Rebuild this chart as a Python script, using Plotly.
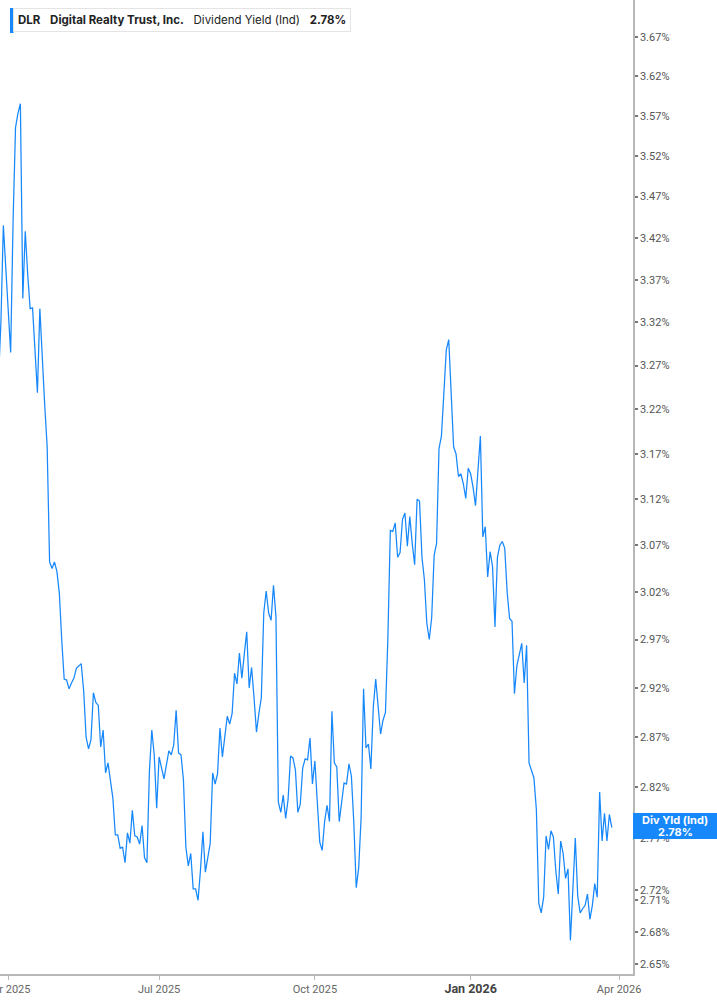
import math
import pandas as pd
import plotly.graph_objects as go

# ---------------- data (dividend yield, %, one value per NYSE trading day) ----------------
HOLIDAYS = ["2025-04-18", "2025-05-26", "2025-06-19", "2025-07-04", "2025-09-01",
            "2025-11-27", "2025-12-25", "2026-01-01", "2026-01-19", "2026-02-16", "2026-04-03"]

# Mar 26 - Mar 31 2025
yld_mar_2025 = [3.255, 3.32, 3.435, 3.384]
# Apr 1 - Jun 30 2025
yld_q2_2025 = [3.336, 3.285, 3.44, 3.555, 3.573, 3.585, 3.348, 3.428, 3.377, 3.336,
               3.337, 3.284, 3.239, 3.336, 3.271, 3.225, 3.178, 3.052, 3.045, 3.052,
               3.042, 3.019, 2.969, 2.929, 2.928, 2.919, 2.925, 2.930, 2.940, 2.943,
               2.945, 2.917, 2.870, 2.858, 2.867, 2.915, 2.905, 2.902, 2.860, 2.877,
               2.834, 2.844, 2.827, 2.809, 2.773, 2.773, 2.760, 2.761, 2.746, 2.775,
               2.765, 2.797, 2.772, 2.771, 2.764, 2.782, 2.751, 2.746, 2.835, 2.877,
               2.852, 2.799]
# Jul 1 - Sep 30 2025
yld_q3_2025 = [2.850, 2.837, 2.828, 2.842, 2.856, 2.852, 2.862, 2.897, 2.854, 2.852,
               2.827, 2.761, 2.743, 2.755, 2.721, 2.721, 2.710, 2.739, 2.776, 2.737,
               2.751, 2.765, 2.834, 2.823, 2.833, 2.879, 2.850, 2.874, 2.891, 2.883,
               2.894, 2.935, 2.924, 2.956, 2.930, 2.955, 2.978, 2.920, 2.941, 2.910,
               2.875, 2.894, 2.910, 2.998, 3.021, 2.998, 2.990, 3.027, 2.994, 2.805,
               2.795, 2.812, 2.789, 2.808, 2.851, 2.849, 2.837, 2.795, 2.803, 2.839,
               2.848, 2.847, 2.869, 2.823]
# Oct 1 - Dec 31 2025
yld_q4_2025 = [2.846, 2.805, 2.766, 2.758, 2.786, 2.802, 2.786, 2.896, 2.844, 2.840,
               2.786, 2.805, 2.824, 2.823, 2.843, 2.831, 2.785, 2.722, 2.741, 2.790,
               2.919, 2.859, 2.863, 2.838, 2.900, 2.929, 2.897, 2.873, 2.887, 2.895,
               2.972, 3.086, 3.085, 3.094, 3.057, 3.062, 3.098, 3.105, 3.069, 3.101,
               3.072, 3.049, 3.120, 3.118, 3.057, 3.033, 2.987, 2.970, 2.993, 3.059,
               3.072, 3.176, 3.190, 3.241, 3.288, 3.300, 3.241, 3.178, 3.170, 3.145,
               3.148, 3.137, 3.121, 3.154]
# Jan 2 - Mar 27 2026
yld_q1_2026 = [3.148, 3.133, 3.113, 3.151, 3.190, 3.079, 3.090, 3.036, 3.063, 3.047,
               2.983, 3.057, 3.070, 3.074, 3.067, 3.020, 2.992, 2.989, 2.914, 2.943,
               2.954, 2.966, 2.925, 2.964, 2.844, 2.837, 2.829, 2.798, 2.707, 2.698,
               2.713, 2.772, 2.759, 2.777, 2.771, 2.738, 2.716, 2.767, 2.755, 2.731,
               2.740, 2.672, 2.719, 2.770, 2.714, 2.698, 2.702, 2.705, 2.716, 2.692,
               2.705, 2.726, 2.713, 2.815, 2.767, 2.794, 2.767, 2.793, 2.780]

Y_TICKS = [3.67, 3.62, 3.57, 3.52, 3.47, 3.42, 3.37, 3.32, 3.27, 3.22, 3.17, 3.12,
           3.07, 3.02, 2.97, 2.92, 2.87, 2.82, 2.77, 2.72, 2.71, 2.68, 2.65]
X_TICKS = ["2025-04-01", "2025-07-01", "2025-10-01", "2026-01-02", "2026-04-01"]
X_TICK_LABELS = ["Apr 2025", "Jul 2025", "Oct 2025", "Jan 2026", "Apr 2026"]

TICKER = "DLR"
COMPANY = "Digital Realty Trust, Inc."
METRIC = "Dividend Yield (Ind)"
SHORT_METRIC = "Div Yld (Ind)"

# ---------------- build ----------------
values = yld_mar_2025 + yld_q2_2025 + yld_q3_2025 + yld_q4_2025 + yld_q1_2026
dates = [d for d in pd.bdate_range("2025-03-26", "2026-03-27")
         if d.strftime("%Y-%m-%d") not in HOLIDAYS]
assert len(dates) == len(values), (len(dates), len(values))
last = values[-1]

BLUE = "#1788fb"
W, H = 717, 1005
PLOT_W, PLOT_H = 633, 974

fig = go.Figure()
fig.add_trace(go.Scatter(x=dates, y=values, mode="lines",
                         line=dict(color=BLUE, width=1.25), hoverinfo="x+y",
                         showlegend=False))

xt = [f"<b><span style='font-size:12.5px;color:#444'>{t}</span></b>" if t.startswith("Jan") else t
      for t in X_TICK_LABELS]

fig.update_layout(
    width=W, height=H,
    margin=dict(l=0, r=W - PLOT_W, t=0, b=H - PLOT_H, autoexpand=False),
    paper_bgcolor="white", plot_bgcolor="white",
    font=dict(family="Roboto", size=11, color="#666"),
    xaxis=dict(
        range=["2025-03-26 15:00", "2026-04-09 17:00"],
        rangebreaks=[dict(bounds=["sat", "mon"]), dict(values=HOLIDAYS)],
        tickmode="array", tickvals=X_TICKS, ticktext=xt,
        showgrid=False, zeroline=False, automargin=False,
        showline=True, linecolor="#b8b8b8", linewidth=1.5,
        ticks="outside", ticklen=4, tickwidth=1, tickcolor="#b8b8b8",
        ticklabeloverflow="allow",
        tickfont=dict(family="Roboto", size=11, color="#666"),
    ),
    yaxis=dict(
        type="log", side="right",
        range=[0.42173, 0.57031],
        tickmode="array", tickvals=Y_TICKS,
        ticktext=[f"{v:.2f}%" for v in Y_TICKS],
        showgrid=False, zeroline=False, automargin=False,
        showline=True, linecolor="#b8b8b8", linewidth=1.5,
        ticks="outside", ticklen=3, tickwidth=2, tickcolor="#777",
        tickfont=dict(family="Roboto", size=11, color="#555"),
    ),
)

# header legend box
fig.add_annotation(
    xref="paper", yref="paper", x=13 / PLOT_W, y=1 - 8 / PLOT_H,
    xanchor="left", yanchor="top", showarrow=False, align="left",
    text=(f"<b>{TICKER}</b>\u00a0\u00a0 <b>{COMPANY}</b>\u00a0\u00a0 {METRIC}\u00a0\u00a0 "
          f"<b>{last:.2f}%</b>"),
    font=dict(family="Inter", size=11.5, color="#222"),
    bgcolor="white", bordercolor="#e4e4e4", borderwidth=1, borderpad=4,
)
fig.add_shape(type="rect", xref="paper", yref="paper",
              x0=10 / PLOT_W, x1=13.5 / PLOT_W, y0=1 - 33 / PLOT_H, y1=1 - 8 / PLOT_H,
              fillcolor=BLUE, line=dict(width=0), layer="above")

# last value tag on the right axis
fig.add_shape(type="rect", xref="paper", yref="paper",
              x0=1.0, x1=W / PLOT_W, y0=1 - 839 / PLOT_H, y1=1 - 813 / PLOT_H,
              fillcolor=BLUE, line=dict(width=0), layer="above")
xc = (PLOT_W + W) / 2 / PLOT_W
fig.add_annotation(xref="paper", yref="paper", x=xc, y=1 - 820 / PLOT_H,
                   xanchor="center", yanchor="middle", showarrow=False,
                   text=f"<b>{SHORT_METRIC}</b>",
                   font=dict(family="Inter", size=11, color="white"))
fig.add_annotation(xref="paper", yref="paper", x=xc, y=1 - 832 / PLOT_H,
                   xanchor="center", yanchor="middle", showarrow=False,
                   text=f"<b>{last:.2f}%</b>",
                   font=dict(family="Inter", size=11, color="white"))

fig.write_html("out.html",
               config={"displayModeBar": False},
               post_script="document.body.style.margin='0px';document.body.style.overflow='hidden';")
